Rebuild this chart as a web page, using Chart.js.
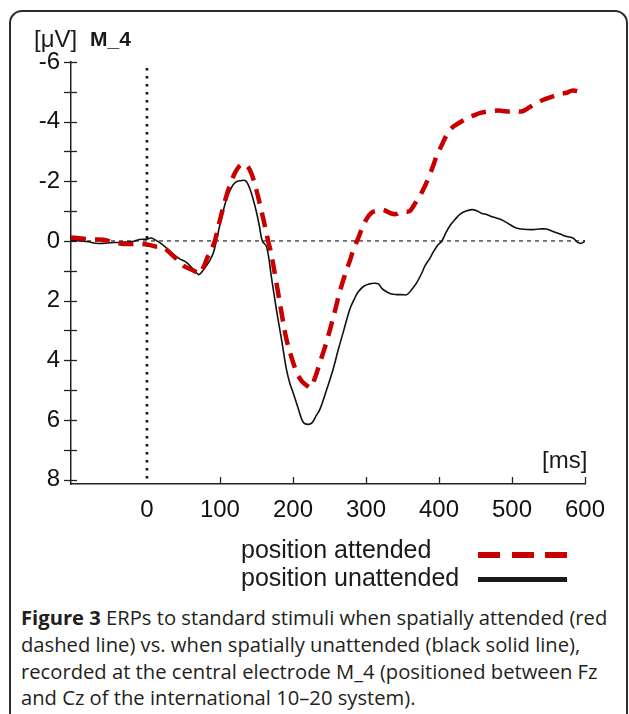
<!DOCTYPE html>
<html>
<head>
<meta charset="utf-8">
<script src="https://cdn.jsdelivr.net/npm/chart.js@4"></script>
<style>
  html, body { margin:0; padding:0; background:#fff; }
  body { width:629px; height:714px; position:relative; overflow:hidden; font-family:"Liberation Sans", Arial, sans-serif; color:#1a1a1a; }
  #frame { position:absolute; left:9px; top:10px; width:619px; height:740px; border:2px solid #2b2b2b; border-radius:13px; box-sizing:border-box; }
  #wrap { position:absolute; left:0; top:0; width:629px; height:540px; }
  .lbl { position:absolute; white-space:nowrap; line-height:1; }
  #caption { position:absolute; left:21px; top:604px; font-family:"Open Sans", "Noto Sans", sans-serif; font-size:20.2px; line-height:26.8px; color:#231f20; white-space:nowrap; }
  #caption b { font-weight:700; }
</style>
</head>
<body>
<div id="frame"></div>
<div id="wrap"><canvas id="c" width="629" height="540"></canvas></div>
<div class="lbl" style="left:34px; top:27px; font-size:24px;">[μV]</div>
<div class="lbl" style="left:90px; top:28px; font-size:21px; font-weight:bold;">M_4</div>
<div class="lbl" style="left:542px; top:448px; font-size:24px;">[ms]</div>
<div class="lbl" style="left:241px; top:537px; font-size:25px;">position attended</div>
<div class="lbl" style="left:241px; top:565px; font-size:25px;">position unattended</div>
<div style="position:absolute; left:478px; top:552px; width:89px; height:6px; background:repeating-linear-gradient(to right, #c80000 0 22px, transparent 22px 33.5px);"></div>
<div style="position:absolute; left:478px; top:577px; width:89px; height:5px; background:#1a1a1a;"></div>
<div id="caption"><b>Figure 3</b> ERPs to standard stimuli when spatially attended (red<br>dashed line) vs. when spatially unattended (black solid line),<br>recorded at the central electrode M_4 (positioned between Fz<br>and Cz of the international 10–20 system).</div>
<script>
// ---- data ----
const seriesNames = ["position attended", "position unattended"];

const attendedMs = [-104,-90,-75,-60,-45,-30,-15,0,13,22,36,50,60,68,72,78,82,88,93,100,107,114,121,127,132,138,144,150,156,162,166,170,178,185,191,198,205,212,219,224,230,237,244,251,258,264,271,278,284,289,295,301,308,315,322,328,335,341,347,354,360,367,374,380,385,391,397,404,410,418,429,438,447,458,470,482,493,503,513,520,529,538,547,556,566,575,582,590,600];
const attendedUv = [-0.12,-0.08,-0.05,-0.04,0.05,0.1,0.1,0.12,0.19,0.21,0.5,0.83,0.95,1.05,1.1,0.85,0.6,0.3,0.0,-0.7,-1.35,-1.9,-2.3,-2.52,-2.58,-2.5,-2.2,-1.7,-1.1,-0.45,0.0,0.4,1.5,2.5,3.29,3.9,4.4,4.7,4.85,4.92,4.6,4.07,3.55,2.95,2.3,1.72,1.15,0.66,0.2,-0.07,-0.45,-0.74,-0.95,-1.02,-1.05,-1.0,-0.92,-0.9,-0.96,-0.98,-1.0,-1.25,-1.52,-1.8,-2.08,-2.45,-2.86,-3.22,-3.53,-3.8,-3.98,-4.1,-4.2,-4.3,-4.35,-4.37,-4.34,-4.36,-4.34,-4.42,-4.56,-4.68,-4.77,-4.85,-4.93,-4.97,-5.04,-5.02,-4.93];

const unattendedMs = [-104,-90,-80,-70,-60,-50,-40,-30,-20,-10,0,5,9,20,36,45,54,65,71,78,86,91,95,101,109,116,122,128,135,141,146,150,154,158,164,171,178,185,191,196,200,207,214,220,226,232,237,246,255,262,269,278,284,289,297,305,311,317,322,328,335,342,349,356,363,370,376,381,387,392,398,404,410,415,422,429,437,445,451,458,466,474,481,488,497,506,516,529,538,547,556,566,575,584,590,595,600];
const unattendedUv = [-0.03,0.0,0.03,0.08,0.08,0.06,0.05,0.04,0.02,-0.05,-0.06,-0.1,-0.07,0.1,0.44,0.6,0.72,0.98,1.13,0.95,0.66,0.4,0.0,-0.65,-1.41,-1.8,-1.98,-2.02,-2.02,-1.75,-1.35,-0.97,-0.5,0.0,0.2,1.3,2.4,3.4,4.3,4.8,5.07,5.6,6.08,6.15,6.1,5.85,5.64,5.0,4.3,3.65,3.05,2.28,1.95,1.72,1.52,1.44,1.42,1.44,1.6,1.7,1.78,1.8,1.8,1.8,1.62,1.38,1.1,0.83,0.6,0.38,0.15,0.0,-0.3,-0.51,-0.72,-0.9,-1.0,-1.05,-1.02,-0.93,-0.88,-0.8,-0.75,-0.68,-0.55,-0.43,-0.39,-0.38,-0.4,-0.4,-0.32,-0.23,-0.15,-0.09,0.05,0.08,0.0];

const xTickValues = [0,100,200,300,400,500,600];
const yTickValues = [-6,-5,-4,-3,-2,-1,0,1,2,3,4,5,6,7,8];
const xRange = [-104, 600];
const yRange = [-6, 8.15];

// ---- chart ----
const toPts = (xs, ys) => xs.map((x, i) => ({x: x, y: ys[i]}));

const axisDecor = {
  id: 'axisDecor',
  beforeDatasetsDraw(chart) {
    const {ctx, chartArea: a, scales: {x, y}} = chart;
    ctx.save();
    // zero reference line
    ctx.strokeStyle = '#222'; ctx.lineWidth = 1.2; ctx.setLineDash([4, 4]);
    const y0 = y.getPixelForValue(0);
    ctx.beginPath(); ctx.moveTo(a.left, y0); ctx.lineTo(a.right, y0); ctx.stroke();
    // stimulus onset dotted line
    ctx.strokeStyle = '#111'; ctx.lineWidth = 2.6; ctx.setLineDash([2.6, 5.4]);
    const x0 = x.getPixelForValue(0);
    ctx.beginPath(); ctx.moveTo(x0, y.getPixelForValue(-5.8)); ctx.lineTo(x0, a.bottom); ctx.stroke();
    ctx.setLineDash([]);
    // tick marks
    ctx.strokeStyle = '#222'; ctx.lineWidth = 1.3;
    yTickValues.forEach(v => {
      const py = Math.round(y.getPixelForValue(v)) + 0.5;
      ctx.beginPath(); ctx.moveTo(a.left - 7, py); ctx.lineTo(a.left + 6, py); ctx.stroke();
    });
    xTickValues.forEach(v => {
      if (v === 0) return;
      const px = Math.round(x.getPixelForValue(v)) + 0.5;
      ctx.beginPath(); ctx.moveTo(px, a.bottom - 7); ctx.lineTo(px, a.bottom); ctx.stroke();
    });
    ctx.restore();
  }
};

new Chart(document.getElementById('c'), {
  type: 'line',
  data: {
    datasets: [
      { label: seriesNames[0], data: toPts(attendedMs, attendedUv), borderColor: '#c80000', borderWidth: 4.5, borderDash: [15, 9], pointRadius: 0, tension: 0.35, fill: false },
      { label: seriesNames[1], data: toPts(unattendedMs, unattendedUv), borderColor: '#111', borderWidth: 1.6, pointRadius: 0, tension: 0.35, fill: false }
    ]
  },
  options: {
    responsive: false,
    animation: false,
    events: [],
    layout: { padding: { left: 0, top: 62, right: 44, bottom: 0 } },
    plugins: { legend: { display: false }, tooltip: { enabled: false } },
    scales: {
      x: {
        type: 'linear', min: xRange[0], max: xRange[1],
        afterBuildTicks: s => { s.ticks = xTickValues.map(v => ({value: v})); },
        afterFit: s => { s.height = 56; },
        grid: { display: false, drawTicks: false },
        border: { display: true, color: '#222', width: 1.5 },
        ticks: { font: { family: 'Liberation Sans', size: 24 }, color: '#111', padding: 12, maxRotation: 0, autoSkip: false }
      },
      y: {
        type: 'linear', reverse: true, min: yRange[0], max: yRange[1],
        afterBuildTicks: s => { s.ticks = yTickValues.map(v => ({value: v})); },
        afterFit: s => { s.width = 71; },
        grid: { display: false, drawTicks: false },
        border: { display: true, color: '#222', width: 1.5 },
        ticks: { font: { family: 'Liberation Sans', size: 24 }, color: '#111', padding: 11, autoSkip: false,
                 callback: v => (v % 2 === 0 ? String(v) : '') }
      }
    }
  },
  plugins: [axisDecor]
});
</script>
</body>
</html>
